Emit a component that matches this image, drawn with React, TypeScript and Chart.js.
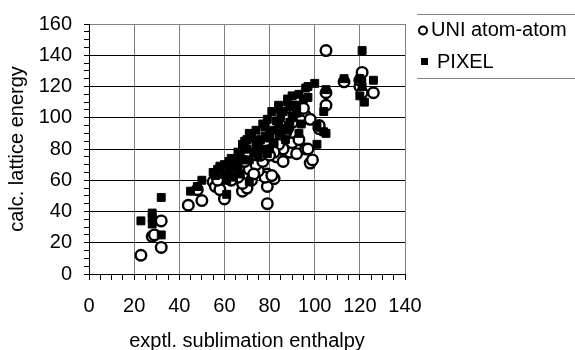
import React, { useEffect, useRef } from "react";
import { Chart, registerables } from "chart.js";

Chart.register(...registerables);

// ---- data ----
const seriesNames = ["UNI atom-atom", "PIXEL"];
const xTitle = "exptl. sublimation enthalpy";
const yTitle = "calc. lattice energy";

const uniX = [23, 28, 29, 32, 32, 44, 50, 48, 55, 56, 58, 60, 57, 62, 64, 68, 70, 68, 72, 71, 66, 65, 79, 79, 82, 79, 78, 81, 75, 74, 77, 69, 63, 59, 60, 89, 90, 92, 93, 96, 97, 98, 99, 102, 102, 91, 93, 96, 105, 105, 88, 85, 86, 83, 80, 84, 87, 82, 76, 78, 88, 94, 95, 98, 90, 105, 113, 120, 121, 121, 126, 120, 80, 73, 86];
const uniY = [12, 24, 25, 17, 34, 44, 47, 54, 59, 56, 54, 48, 60, 70, 64, 53, 55, 58, 60, 67, 62, 66, 56, 45, 61, 64, 62, 63, 66, 70, 72, 72, 60, 65, 67, 78, 84, 77, 86, 80, 80, 71, 73, 93, 95, 106, 104, 101, 108, 116, 93, 88, 80, 75, 82, 83, 90, 78, 76, 85, 100, 98, 106, 99, 97, 143, 123, 120, 129, 116, 116, 124, 76, 64, 72];

const pixelX = [23, 28, 28, 28, 32, 32, 45, 48, 50, 56, 61, 61, 67, 71, 58, 55, 57, 60, 63, 65, 67, 69, 68, 72, 70, 73, 75, 74, 76, 78, 80, 80, 78, 82, 83, 85, 84, 86, 87, 88, 89, 90, 92, 91, 89, 92, 95, 96, 97, 100, 97, 101, 104, 105, 101, 94, 93, 86, 88, 84, 76, 71, 66, 62, 82, 79, 64, 66, 104, 105, 113, 120, 121, 126, 122, 120, 121, 63, 66, 69, 71, 74, 77, 79, 81, 84, 88, 90, 93, 70, 75, 80, 85, 65, 60, 62, 68];
const pixelY = [34, 39, 36, 32, 49, 25, 53, 56, 60, 63, 60, 51, 64, 59, 69, 65, 67, 70, 69, 72, 75, 80, 83, 87, 86, 78, 75, 82, 86, 88, 80, 91, 94, 92, 98, 101, 96, 93, 86, 92, 97, 100, 103, 108, 107, 108, 112, 119, 120, 122, 113, 95, 91, 90, 83, 96, 90, 104, 110, 106, 80, 73, 70, 66, 84, 77, 62, 67, 104, 118, 125, 125, 143, 124, 110, 114, 120, 74, 78, 85, 90, 92, 96, 99, 104, 108, 112, 114, 115, 80, 84, 87, 90, 68, 64, 72, 73];

const xMin = 0, xMax = 140, xMajor = 20, xMinor = 5;
const yMin = 0, yMax = 160, yMajor = 20, yMinor = 5;

const FONT = '"Liberation Sans", Arial, Helvetica, sans-serif';

export default function App() {
  const ref = useRef<HTMLCanvasElement | null>(null);

  useEffect(() => {
    if (!ref.current) return;
    Chart.defaults.font.family = FONT;
    Chart.defaults.color = "#000";

    const legendPlugin = {
      id: "customLegend",
      afterDraw(chart: any) {
        const ctx = chart.ctx as CanvasRenderingContext2D;
        ctx.save();
        ctx.strokeStyle = "#808080";
        ctx.lineWidth = 1;
        ctx.beginPath();
        ctx.moveTo(417, 14.5);
        ctx.lineTo(575, 14.5);
        ctx.moveTo(417, 78.5);
        ctx.lineTo(575, 78.5);
        ctx.stroke();

        // circle marker
        ctx.beginPath();
        ctx.arc(423, 30.5, 4, 0, Math.PI * 2);
        ctx.fillStyle = "#fff";
        ctx.fill();
        ctx.lineWidth = 2;
        ctx.strokeStyle = "#000";
        ctx.stroke();
        // square marker
        ctx.fillStyle = "#000";
        ctx.fillRect(421, 58, 7, 7);

        ctx.font = `20px ${FONT}`;
        ctx.textBaseline = "middle";
        ctx.textAlign = "left";
        ctx.fillStyle = "#000";
        ctx.fillText(chart.data.datasets[0].label, 431, 30);
        ctx.fillText(chart.data.datasets[1].label, 437, 62);
        ctx.restore();
      },
    };

    const chart = new Chart(ref.current, {
      type: "scatter",
      data: {
        datasets: [
          {
            label: seriesNames[0],
            data: uniX.map((x, i) => ({ x, y: uniY[i] })),
            pointStyle: "circle",
            pointRadius: 5.3,
            pointBorderWidth: 2.4,
            pointBorderColor: "#000",
            pointBackgroundColor: "#fff",
            order: 1,
          },
          {
            label: seriesNames[1],
            data: pixelX.map((x, i) => ({ x, y: pixelY[i] })),
            pointStyle: "rect",
            pointRadius: 5.6,
            pointBorderWidth: 1,
            pointBorderColor: "#000",
            pointBackgroundColor: "#000",
            order: 0,
          },
        ],
      },
      options: {
        responsive: false,
        animation: false,
        devicePixelRatio: 1,
        layout: { padding: { top: 21, right: 170, left: 0, bottom: 0 } },
        plugins: {
          legend: { display: false },
          tooltip: { enabled: false },
        },
        scales: {
          x: {
            type: "linear",
            min: xMin,
            max: xMax,
            afterFit: (s: any) => {
              s.height = 76;
            },
            ticks: {
              stepSize: xMinor,
              autoSkip: false,
              maxRotation: 0,
              minRotation: 0,
              padding: 14,
              color: "#000",
              font: { size: 20, family: FONT },
              callback: (v: any) => (Number(v) % xMajor === 0 ? String(v) : ""),
            },
            grid: {
              color: (c: any) =>
                c.tick && Math.round(c.tick.value) % xMajor === 0 ? "#808080" : "rgba(0,0,0,0)",
              tickColor: "#000",
              tickLength: 6,
              lineWidth: 1,
            },
            border: { color: "#000", width: 1 },
            title: {
              display: true,
              text: xTitle,
              color: "#000",
              font: { size: 20, family: FONT },
              padding: { top: 0, bottom: -3 },
            },
          },
          y: {
            type: "linear",
            min: yMin,
            max: yMax,
            afterFit: (s: any) => {
              s.width = 89;
            },
            ticks: {
              stepSize: yMinor,
              autoSkip: false,
              padding: 12,
              color: "#000",
              font: { size: 20, family: FONT },
              callback: (v: any) => (Number(v) % yMajor === 0 ? String(v) : ""),
            },
            grid: {
              color: (c: any) => {
                if (!c.tick) return "rgba(0,0,0,0)";
                const v = Math.round(c.tick.value);
                if (v % yMajor !== 0) return "rgba(0,0,0,0)";
                return v === yMax ? "#808080" : "#000";
              },
              tickColor: "#000",
              tickLength: 5,
              lineWidth: 1,
            },
            border: { color: "#000", width: 1 },
            title: {
              display: true,
              text: yTitle,
              color: "#000",
              font: { size: 20, family: FONT },
              padding: { top: 5, bottom: 0 },
            },
          },
        },
      },
      plugins: [legendPlugin],
    } as any);

    return () => chart.destroy();
  }, []);

  return (
    <div style={{ position: "absolute", left: 0, top: 0, width: 575, height: 350, background: "#fff" }}>
      <canvas ref={ref} width={575} height={350} style={{ display: "block" }} />
    </div>
  );
}
